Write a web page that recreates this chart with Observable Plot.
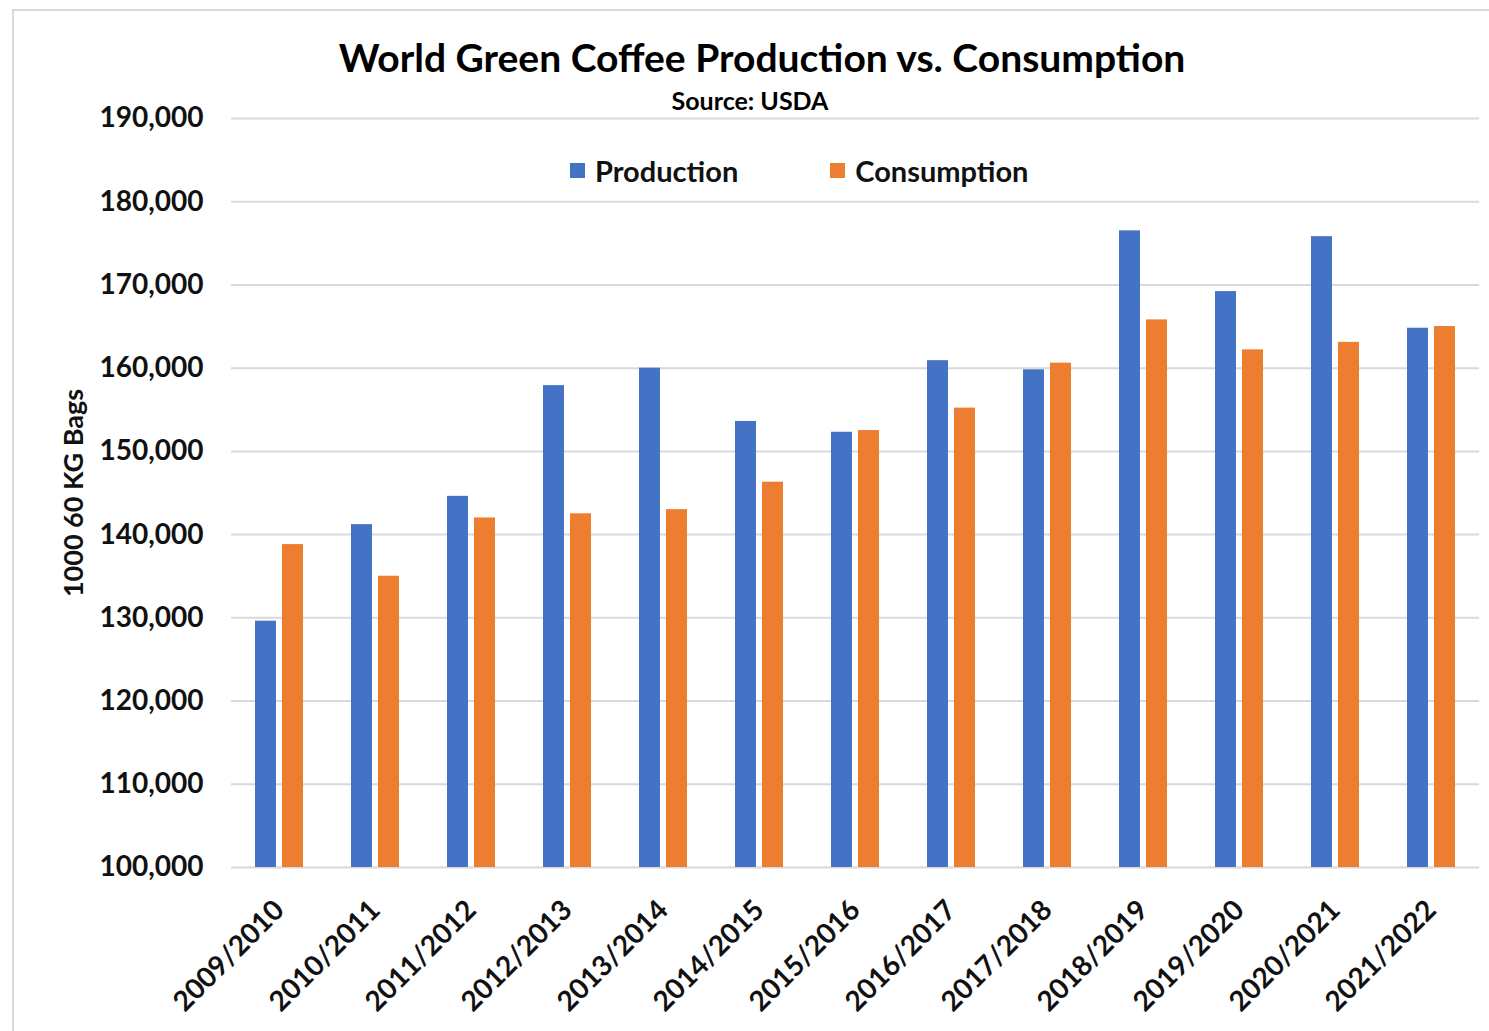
<!DOCTYPE html>
<html>
<head>
<meta charset="utf-8">
<script src="https://cdn.jsdelivr.net/npm/d3@7"></script>
<script src="https://cdn.jsdelivr.net/npm/@observablehq/plot@0.6"></script>
<style>
  body { margin: 0; background: #fff; font-family: Lato, "Open Sans", sans-serif; }
  #wrap { position: relative; width: 1489px; height: 1031px; overflow: hidden; }
  #frame { position: absolute; left: 12px; top: 9px; width: 1490px; height: 1040px; border: 2px solid #d9d9d9; box-sizing: border-box; }
  #title { position: absolute; left: 0; width: 1524px; top: 34px; text-align: center; font-weight: 700; font-size: 39px; color: #000; }
  #subtitle { position: absolute; left: 0; width: 1500px; top: 85px; text-align: center; font-weight: 700; font-size: 25px; color: #000; }
  #legend { position: absolute; top: 153px; left: 570px; font-weight: 700; font-size: 29px; color: #111; display: flex; align-items: center; }
  #legend .sw { display: inline-block; width: 15px; height: 15px; margin-right: 10px; }
  #legend .item { display: flex; align-items: center; margin-right: 92px; }
  #chart { position: absolute; left: 0; top: 88px; }
</style>
</head>
<body>
<div id="wrap">
  <div id="frame"></div>
  <div id="chart"></div>
  <div id="title">World Green Coffee Production vs. Consumption</div>
  <div id="subtitle">Source: USDA</div>
  <div id="legend"></div>
</div>
<script>
const years = ["2009/2010","2010/2011","2011/2012","2012/2013","2013/2014","2014/2015","2015/2016","2016/2017","2017/2018","2018/2019","2019/2020","2020/2021","2021/2022"];
const production = [129600,141200,144600,157900,160000,153600,152300,160900,159800,176500,169200,175800,164800];
const consumption = [138800,135000,142000,142500,143000,146300,152500,155200,160600,165800,162200,163100,165000];
const seriesNames = ["Production","Consumption"];
const seriesColors = ["#4472c4","#ed7d31"];
const yTicks = [100000,110000,120000,130000,140000,150000,160000,170000,180000,190000];
const yLabel = "1000 60 KG Bags";

const data = [];
years.forEach((y, i) => {
  data.push({year: y, series: "Production", value: production[i]});
  data.push({year: y, series: "Consumption", value: consumption[i]});
});

const plot = Plot.plot({
  width: 1489,
  height: 943,
  marginLeft: 228,
  marginRight: 8,
  marginTop: 30,
  marginBottom: 164,
  style: {fontFamily: "Lato, 'Open Sans', sans-serif", background: "transparent"},
  fx: {domain: years, padding: 0, label: null},
  x: {domain: seriesNames, paddingInner: 0.214, paddingOuter: 0.83, axis: null},
  y: {domain: [100000, 190000], label: null},
  color: {domain: seriesNames, range: seriesColors},
  marks: [
    Plot.ruleY(yTicks, {stroke: "#d9d9d9", strokeWidth: 2}),
    Plot.barY(data, {fx: "year", x: "series", y1: 100000, y2: "value", fill: "series"}),
    Plot.axisY({ticks: yTicks, tickFormat: d3.format(","), tickSize: 0, tickPadding: 28, fontSize: 28, fontWeight: 700, fill: "#111",
      label: yLabel, labelAnchor: "center", labelArrow: "none", labelOffset: 168}),
    Plot.axisFx({anchor: "bottom", tickRotate: -45, tickSize: 0, tickPadding: 38, fontSize: 28, fontWeight: 700, fill: "#111", label: null})
  ]
});
document.getElementById("chart").appendChild(plot);

// style the y axis label
plot.querySelectorAll("g[aria-label='y-axis label'] text").forEach(t => {
  t.setAttribute("font-size", "27");
  t.setAttribute("font-weight", "700");
});

const legend = document.getElementById("legend");
seriesNames.forEach((s, i) => {
  const item = document.createElement("span");
  item.className = "item";
  const sw = document.createElement("span");
  sw.className = "sw";
  sw.style.background = seriesColors[i];
  item.appendChild(sw);
  item.appendChild(document.createTextNode(s));
  legend.appendChild(item);
});
</script>
</body>
</html>
